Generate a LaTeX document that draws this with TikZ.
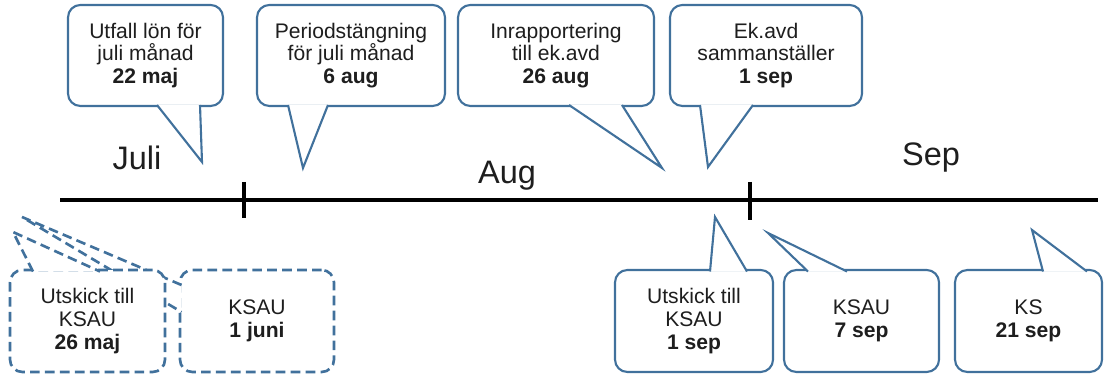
\documentclass[tikz,border=0pt]{standalone}
\usepackage{fontspec}
\setmainfont{Liberation Sans}
\definecolor{bleu}{HTML}{41719C}
\definecolor{texte}{HTML}{1E1E1E}

\begin{document}
\begin{tikzpicture}[x=0.02cm,y=-0.02cm]
  \tikzset{bulle/.style = {rectangle, draw=bleu, line width=1.2pt, fill=white,
      rounded corners=7pt, align=center, inner sep=2pt, text=texte,
      font=\fontsize{12}{13}\selectfont},
    haut/.style = {bulle, minimum height=2.02cm},
    bas/.style = {bulle, minimum height=2.04cm},
    pointe/.style = {draw=bleu, line width=1.2pt, fill=white},
    pointille/.style = {line width=1.5pt, dash pattern=on 5.5pt off 3pt},
    mois/.style = {text=texte, font=\fontsize{18.5}{22}\selectfont}}
  \useasboundingbox (0,0) rectangle (1108,374);

  % axe du temps
  \coordinate (debut) at (60,200);
  \coordinate (fin) at (1098,200);
  \draw[line width=2.3pt] (debut) -- (fin);
  \draw[line width=2.3pt] (244,182) -- (244,218);
  \draw[line width=2.3pt] (750,182) -- (750,220);

  \node[mois] (juli) at (137,158) {Juli};
  \node[mois] (aug) at (507,176) {Aug};
  \node[mois] (sep) at (931,158) {Sep};

  % bulles du haut
  \node[haut, minimum width=3.1cm] (utfall) at (145.5,55.5)
     {Utfall lön för\\juli månad\\\textbf{22 maj}};
  \draw[pointe] (157,105) -- (202,162) -- (200,105);
  \node[haut, minimum width=3.76cm] (period) at (351,55.5)
     {Periodstängning\\för juli månad\\\textbf{6 aug}};
  \draw[pointe] (288,105) -- (303,168) -- (328,105);
  \node[haut, minimum width=3.92cm] (inrapp) at (556,55.5)
     {Inrapportering\\till ek.avd\\\textbf{26 aug}};
  \draw[pointe] (569,105) -- (662,168) -- (622,105);
  \node[haut, minimum width=3.84cm] (ekavd) at (766,55.5)
     {Ek.avd\\sammanställer\\\textbf{1 sep}};
  \draw[pointe] (700,105) -- (708,167) -- (753,105);

  % bulles du bas
  \node[bas, pointille, minimum width=3.08cm] (ksauA) at (257,321)
     {KSAU\\\textbf{1 juni}};
  \draw[pointe, pointille] (181.5,285) -- (22,217) -- (181.5,312);
  \node[bas, pointille, minimum width=3.1cm] (utskickA) at (87.5,321)
     {Utskick till\\KSAU\\\textbf{26 maj}};
  \draw[pointe, pointille] (33,271.5) -- (13,232) -- (100,271.5);
  \node[bas, minimum width=3.16cm] (utskickB) at (694,321)
     {Utskick till\\KSAU\\\textbf{1 sep}};
  \draw[pointe] (710,271.5) -- (715,217) -- (747,271.5);
  \node[bas, minimum width=3.1cm] (ksauB) at (861.5,321)
     {KSAU\\\textbf{7 sep}};
  \draw[pointe] (808,271.5) -- (768,233) -- (847,271.5);
  \node[bas, minimum width=2.94cm] (ks) at (1028.5,321)
     {KS\\\textbf{21 sep}};
  \draw[pointe] (1043,271.5) -- (1032,230) -- (1087,271.5);
\end{tikzpicture}
\end{document}
